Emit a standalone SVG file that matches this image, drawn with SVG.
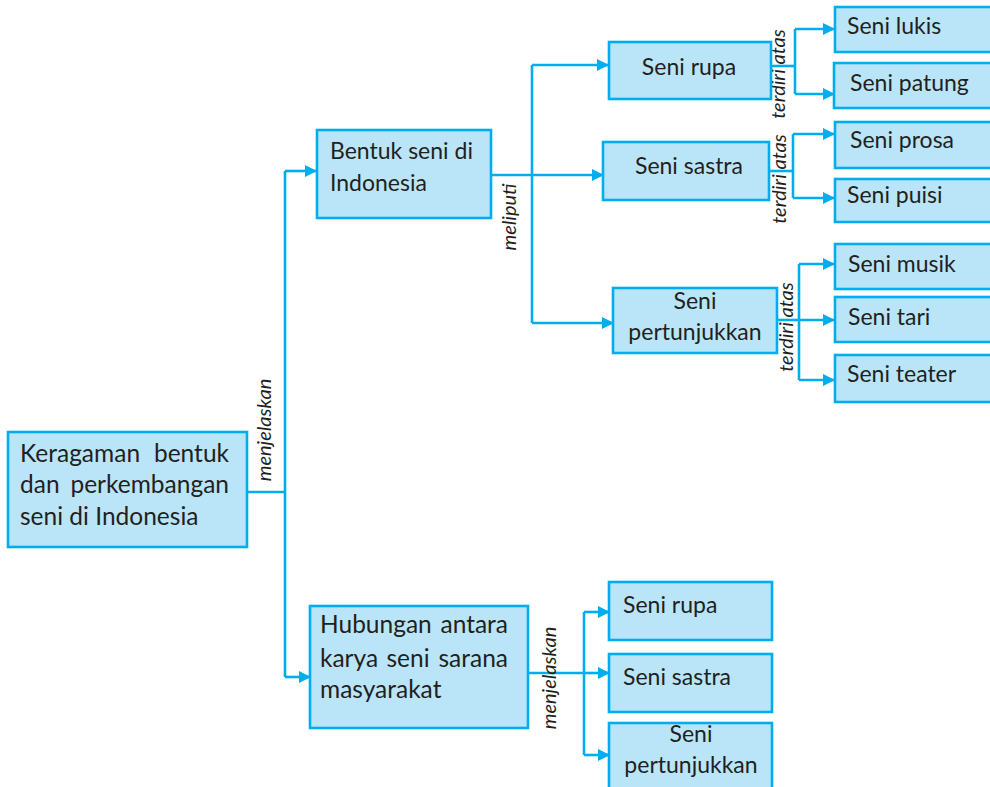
<svg xmlns="http://www.w3.org/2000/svg" width="990" height="787" viewBox="0 0 990 787">
  <defs>
    <marker id="arr" viewBox="0 0 12 12" refX="11" refY="6" markerWidth="12" markerHeight="12" markerUnits="userSpaceOnUse" orient="auto">
      <path d="M0,0 L12,6 L0,12 Z" fill="#00aeef"/>
    </marker>
  </defs>
  <style>
    .box { fill: #bae5f9; stroke: #00aeef; stroke-width: 2.6; }
    .t { font-family: Lato, "Open Sans", sans-serif; font-size: 23px; fill: #231f20; }
    .big { font-size: 24.5px; }
    .c { text-anchor: middle; }
    .e { text-anchor: end; }
    .lbl { font-family: Lato, "Open Sans", sans-serif; font-style: italic; font-size: 20px; fill: #231f20; text-anchor: middle; }
    .ln { fill: none; stroke: #00aeef; stroke-width: 2.6; }
    .ar { fill: none; stroke: #00aeef; stroke-width: 2.6; marker-end: url(#arr); }
  </style>
  <rect width="990" height="787" fill="#ffffff"/>

  <g id="connectors">
    <!-- root to level 1 -->
    <path class="ln" d="M247,492 H285"/>
    <path class="ln" d="M285,171 V677"/>
    <path class="ar" d="M285,171 H316"/>
    <path class="ar" d="M285,677 H310"/>
    <!-- Bentuk seni to its kinds -->
    <path class="ln" d="M491,175 H532"/>
    <path class="ln" d="M532,65 V323"/>
    <path class="ar" d="M532,65 H608"/>
    <path class="ar" d="M532,175 H603"/>
    <path class="ar" d="M532,323 H613"/>
    <!-- Seni rupa -->
    <path class="ln" d="M771,66 H795"/>
    <path class="ln" d="M795,29 V94"/>
    <path class="ar" d="M795,29 H834"/>
    <path class="ar" d="M795,94 H834"/>
    <!-- Seni sastra -->
    <path class="ln" d="M769,171 H793"/>
    <path class="ln" d="M793,134 V198"/>
    <path class="ar" d="M793,134 H834"/>
    <path class="ar" d="M793,198 H834"/>
    <!-- Seni pertunjukkan -->
    <path class="ln" d="M777,320 H799"/>
    <path class="ln" d="M799,264 V380"/>
    <path class="ar" d="M799,264 H834"/>
    <path class="ar" d="M799,320 H834"/>
    <path class="ar" d="M799,380 H834"/>
    <!-- Hubungan -->
    <path class="ln" d="M528,673 H584"/>
    <path class="ln" d="M584,612 V755"/>
    <path class="ar" d="M584,612 H609"/>
    <path class="ar" d="M584,673 H609"/>
    <path class="ar" d="M584,755 H609"/>

    <!-- connector labels -->
    <text class="lbl" transform="translate(271,430) rotate(-90)">menjelaskan</text>
    <text class="lbl" transform="translate(516,217) rotate(-90)">meliputi</text>
    <text class="lbl" transform="translate(785,74) rotate(-90)">terdiri atas</text>
    <text class="lbl" transform="translate(786,179) rotate(-90)">terdiri atas</text>
    <text class="lbl" transform="translate(793,327) rotate(-90)">terdiri atas</text>
    <text class="lbl" transform="translate(556,678) rotate(-90)">menjelaskan</text>
  </g>

  <g id="root">
    <rect class="box" x="8" y="432" width="239" height="115"/>
    <text class="t big" x="20" y="462">Keragaman</text>
    <text class="t big e" x="229" y="462">bentuk</text>
    <text class="t big" x="20" y="493">dan</text>
    <text class="t big e" x="229" y="493">perkembangan</text>
    <text class="t big" x="20" y="525">seni di Indonesia</text>
  </g>

  <g id="bentuk">
    <rect class="box" x="317" y="130" width="174" height="88"/>
    <text class="t" x="330" y="159">Bentuk seni di</text>
    <text class="t" x="330" y="191">Indonesia</text>
  </g>

  <g id="hubungan">
    <rect class="box" x="310" y="606" width="218" height="122"/>
    <text class="t big" x="320" y="633">Hubungan</text>
    <text class="t big e" x="508" y="633">antara</text>
    <text class="t big" x="320" y="667">karya</text>
    <text class="t big c" x="408" y="667">seni</text>
    <text class="t big e" x="508" y="667">sarana</text>
    <text class="t big" x="320" y="698">masyarakat</text>
  </g>

  <g id="seni-rupa">
    <rect class="box" x="609" y="42" width="162" height="57"/>
    <text class="t c" x="689" y="75">Seni rupa</text>
  </g>
  <g id="seni-sastra">
    <rect class="box" x="603" y="142" width="166" height="58"/>
    <text class="t c" x="689" y="174">Seni sastra</text>
  </g>
  <g id="seni-pertunjukkan">
    <rect class="box" x="613" y="288" width="164" height="65"/>
    <text class="t c" x="695" y="309">Seni</text>
    <text class="t c" x="695" y="340">pertunjukkan</text>
  </g>

  <g id="seni-lukis">
    <rect class="box" x="835" y="7" width="165" height="45"/>
    <text class="t" x="847" y="34">Seni lukis</text>
  </g>
  <g id="seni-patung">
    <rect class="box" x="834" y="63" width="166" height="45"/>
    <text class="t" x="850" y="91">Seni patung</text>
  </g>
  <g id="seni-prosa">
    <rect class="box" x="835" y="122" width="165" height="46"/>
    <text class="t" x="850" y="148">Seni prosa</text>
  </g>
  <g id="seni-puisi">
    <rect class="box" x="835" y="179" width="165" height="43"/>
    <text class="t" x="847" y="203">Seni puisi</text>
  </g>
  <g id="seni-musik">
    <rect class="box" x="835" y="244" width="165" height="45"/>
    <text class="t" x="848" y="272">Seni musik</text>
  </g>
  <g id="seni-tari">
    <rect class="box" x="835" y="297" width="165" height="45"/>
    <text class="t" x="848" y="325">Seni tari</text>
  </g>
  <g id="seni-teater">
    <rect class="box" x="835" y="355" width="165" height="47"/>
    <text class="t" x="847" y="382">Seni teater</text>
  </g>

  <g id="b-seni-rupa">
    <rect class="box" x="609" y="582" width="163" height="58"/>
    <text class="t" x="623" y="613">Seni rupa</text>
  </g>
  <g id="b-seni-sastra">
    <rect class="box" x="609" y="654" width="163" height="58"/>
    <text class="t" x="623" y="685">Seni sastra</text>
  </g>
  <g id="b-seni-pertunjukkan">
    <rect class="box" x="609" y="723" width="163" height="80"/>
    <text class="t c" x="691" y="742">Seni</text>
    <text class="t c" x="691" y="773">pertunjukkan</text>
  </g>
</svg>
